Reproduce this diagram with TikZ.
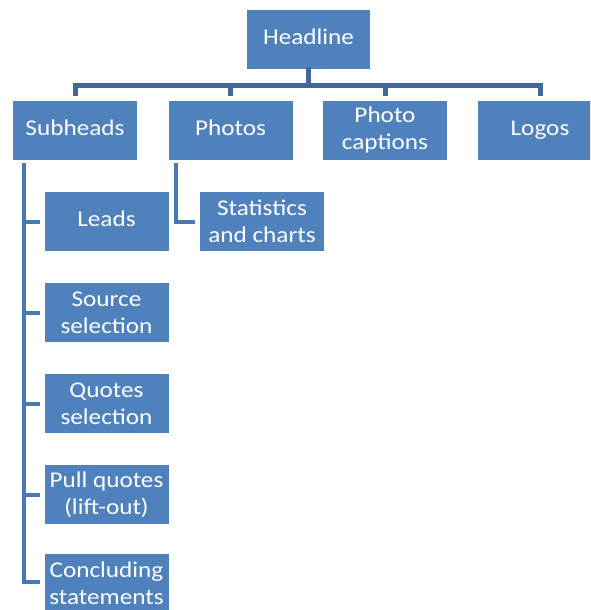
\documentclass[tikz,border=0pt]{standalone}
\usepackage{fontspec}
\setmainfont[FakeStretch=1.12]{Carlito}
\definecolor{boxblue}{HTML}{4F81BD}
\definecolor{linebar}{HTML}{41689A}
\definecolor{linespine}{HTML}{4A78B2}
\begin{document}
\begin{tikzpicture}[x=1pt,y=-1pt,
  box/.style={fill=boxblue, draw=none, minimum width=124pt, minimum height=59pt,
    inner sep=0pt, align=center, text=white,
    font=\fontsize{22.5}{27}\selectfont},
  bar/.style={draw=linebar, line width=5pt, line cap=rect, line join=miter},
  spine/.style={draw=linespine, line width=4pt, line join=miter}]
\useasboundingbox (0,0) rectangle (590,610);
\clip (0,0) rectangle (590,610);
\fill[white] (0,0) rectangle (590,610);
% nodes
\node[box, minimum width=123pt] (head) at (308.5,39.5) {Headline\strut};
\node[box] (sub) at (75,130.5) {Subheads\strut};
\node[box] (pho) at (230.5,130.5) {Photos\strut};
\node[box] (cap) at (385,130.5) {Photo\\captions};
\node[box] (logo) at (540,130.5) {Logos\strut};
\node[box] (lead) at (106.5,221.5) {Leads\strut};
\node[box] (stat) at (262,221.5) {Statistics\\and charts};
\node[box] (src) at (106.5,312.5) {Source\\selection};
\node[box] (quo) at (106.5,403.5) {Quotes\\selection};
\node[box] (pull) at (106.5,494.5) {Pull quotes\\(lift-out)};
\node[box] (conc) at (106.5,583.5) {Concluding\\statements};
% top-level connectors
\coordinate (hb) at ([yshift=-16pt]head.south);
\draw[bar] (head.south) -- (hb);
\foreach \n in {sub,pho,cap,logo}
  \draw[bar, line cap=butt, shorten >=5pt] (hb) -| (\n.north);
% subheads spine
\foreach \n in {lead,src,quo,pull}
  \draw[spine, shorten <=3pt, shorten >=4pt] ([xshift=11pt]sub.south west) |- (\n.west);
\draw[spine, shorten <=3pt, shorten >=4pt] ([xshift=11pt]sub.south west) |- ([yshift=2pt]conc.west);
% photos spine
\draw[spine, shorten <=3pt, shorten >=5pt] ([xshift=8pt]pho.south west) |- (stat.west);
\end{tikzpicture}
\end{document}
